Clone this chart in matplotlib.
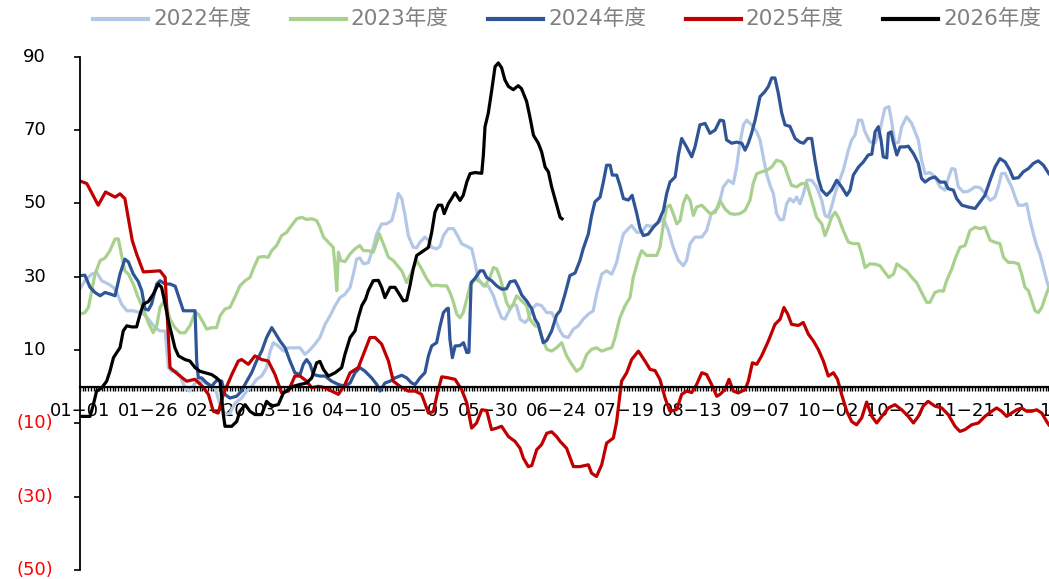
import matplotlib.pyplot as plt
from matplotlib.lines import Line2D
from matplotlib.ticker import MultipleLocator

plt.rcParams['font.family'] = ['DejaVu Sans', 'Noto Sans CJK SC']

# x axis: day of year (leap year), a label every 25 days
tick_days = list(range(0, 351, 25))
tick_labels = ['01-01', '01-26', '02-20', '03-16', '04-10', '05-05', '05-30', '06-24',
               '07-19', '08-13', '09-07', '10-02', '10-27', '11-21', '12-16']
y_ticks = [90, 70, 50, 30, 10, -10, -30, -50]

# 2022年度
days_2022 = [0, 1.8, 4.3, 6.1, 8, 10.4, 12.3, 13.5, 15.3, 17.2, 19.6, 22.1, 23.9, 25.7, 27.6,
             29.4, 31.3, 32.5, 33.7, 35.5, 36.8, 38.6, 40.4, 42.3, 44.7, 47.2, 49.6, 51.5, 53.3,
             55.1, 57, 59.4, 61.3, 63.1, 64.9, 66.8, 68.6, 69.9, 71.1, 72.9, 74.8, 76.6, 79,
             80.9, 82.7, 84.6, 86.4, 88.2, 90.1, 91.9, 93.8, 95.6, 97.4, 99.3, 100.5, 101.7,
             102.9, 104.2, 106, 107.8, 109.1, 110.9, 112.7, 114.6, 115.8, 117, 118.3, 119.5,
             120.7, 122.5, 123.8, 125, 126.8, 128.1, 129.3, 131.1, 132.4, 133.6, 135.4, 137.3,
             139.1, 140.3, 142.2, 144, 145.2, 146.4, 148.3, 150.1, 152, 153.2, 155, 156.2,
             158.1, 159.3, 160.5, 161.8, 163.6, 164.8, 166.1, 167.9, 169.7, 171.6, 173.4,
             174.6, 176.5, 177.7, 179.5, 181.4, 183.2, 185, 186.9, 188.7, 189.9, 191.8, 193.6,
             195.5, 197.3, 198.5, 199.8, 201.6, 202.8, 204.7, 206.5, 208.3, 210.2, 212, 214.5,
             216.3, 218.1, 220, 221.8, 223, 224.3, 226.1, 228.6, 230.4, 232, 234.7, 236.5,
             238.4, 240.2, 241.4, 242.6, 243.9, 245.1, 246.9, 248.8, 250, 251.2, 252.4, 253.7,
             254.9, 256.1, 257.4, 258.6, 259.8, 261, 262.3, 263.5, 264.7, 266, 267.2, 269,
             270.8, 272.7, 273.9, 275.1, 276.3, 277.6, 278.8, 280.6, 282.5, 283.7, 284.9, 286.2,
             287.4, 288.6, 290.4, 292.3, 294.1, 295.9, 297.4, 298.5, 299.6, 300.9, 302.1, 303.9,
             305.8, 307, 308.2, 309.4, 310.7, 312.5, 314.3, 316.2, 318, 319.2, 320.5, 321.7,
             322.9, 324.8, 326.6, 329.1, 330.9, 332.7, 334.6, 336.4, 337.6, 338.8, 340.1, 341.3,
             342.5, 343.8, 345, 346.8, 348, 349.3, 350.5, 351.7, 352.9, 354.2, 355.4, 356.2]
vals_2022 = [26.6, 28.9, 30.7, 31.2, 28.9, 28.0, 27.1, 25.7, 22.5, 20.7, 20.7, 20.2, 19.5, 17.9,
             16.1, 15.2, 15.2, 5.2, 4.2, 4.2, 2.9, -0.3, -1.2, 1.0, 1.5, 0.6, -0.3, -4.9, -7.6,
             -7.2, -4.5, -3.1, -1.2, 0.1, 2.0, 2.9, 5.2, 9.7, 12.0, 11.1, 9.7, 10.6, 10.6, 10.6,
             8.8, 10.1, 11.6, 13.4, 17.0, 19.3, 22.1, 24.3, 25.2, 27.1, 30.7, 34.8, 35.1, 33.5,
             33.8, 38.0, 41.7, 44.4, 44.4, 45.3, 48.5, 52.7, 51.3, 46.7, 41.2, 38.0, 37.9, 39.4,
             40.8, 40.0, 38.0, 37.6, 38.3, 41.2, 43.1, 43.1, 40.8, 39.0, 38.3, 37.6, 33.9, 29.4,
             27.5, 27.5, 24.8, 22.1, 18.8, 18.4, 21.2, 22.5, 22.1, 18.4, 17.5, 18.4, 21.2, 22.5,
             22.1, 20.2, 20.2, 18.6, 15.2, 13.8, 13.4, 15.7, 16.6, 18.4, 19.8, 20.7, 25.2, 30.7,
             31.6, 30.7, 33.9, 38.0, 41.7, 43.1, 44.0, 42.1, 42.1, 44.0, 43.7, 44.4, 45.8, 42.6,
             38.0, 34.4, 33.0, 34.4, 39.0, 40.8, 40.8, 42.6, 47.0, 49.0, 54.5, 56.3, 55.4, 59.9,
             66.4, 71.4, 72.7, 71.4, 69.5, 67.3, 62.7, 58.1, 54.9, 52.7, 47.2, 45.5, 45.6, 49.9,
             51.3, 50.4, 51.7, 49.9, 52.7, 56.3, 56.3, 54.5, 50.8, 46.7, 46.2, 49.0, 52.7, 55.4,
             59.0, 64.5, 67.3, 68.6, 72.7, 72.7, 69.5, 66.8, 66.5, 70.0, 75.9, 76.4, 71.8, 66.4,
             66.6, 70.9, 73.6, 71.8, 69.5, 67.3, 61.8, 58.1, 58.4, 57.2, 54.5, 53.6, 56.8, 59.5,
             59.3, 54.5, 53.1, 53.3, 54.5, 54.3, 52.7, 50.8, 51.7, 54.5, 58.1, 58.2, 56.3, 54.5,
             51.7, 49.5, 49.5, 49.9, 45.3, 41.7, 38.5, 36.2, 32.5, 28.9, 27.1]

# 2023年度
days_2023 = [0, 1.8, 3.1, 4.3, 5.5, 7.4, 9.2, 11, 12.9, 14.1, 15.3, 16.5, 17.8, 19.6, 21.4,
             23.3, 25.1, 26.9, 28.2, 29.4, 30.6, 31.9, 33.1, 34.9, 36.8, 38.6, 40.4, 42.3, 43.5,
             45.3, 46.6, 48.4, 50.2, 51.5, 53.3, 55.1, 57, 58.8, 60.7, 62.5, 63.7, 65.6, 67.4,
             69.2, 70.5, 72.3, 74.1, 76, 77.8, 79.7, 81.5, 83.3, 85.2, 87, 88.2, 89.5, 91.3,
             93.1, 93.8, 94.4, 95, 95.9, 97.4, 99.3, 101.1, 102.9, 104.2, 106, 107.8, 109.1, 110,
             111.5, 113.4, 115.2, 116.5, 118.3, 120.1, 121.9, 123.8, 125.6, 127.5, 129.3, 131.1,
             133, 134.8, 136, 137.3, 138.5, 139.7, 140.9, 142.2, 143.4, 145.2, 147.1, 148.9,
             150.7, 152, 153.2, 154.4, 155.6, 156.8, 158.1, 159.3, 160.5, 162.4, 164.2, 165.4,
             167.3, 168.5, 169.7, 171.6, 173.4, 175.2, 177.1, 178.9, 180.8, 182.6, 184.4, 186.3,
             188.1, 189.9, 191.8, 193.6, 195.5, 196.7, 198.5, 200.4, 202.2, 203.4, 205.3, 206.5,
             208.3, 210.2, 212, 213.2, 214.5, 215.7, 216.9, 218.1, 219.4, 220.6, 221.8, 223,
             224.3, 225.5, 226.7, 228.6, 230.4, 231.6, 233.5, 235.3, 237.1, 239, 240.8, 242.6,
             244.5, 246.3, 247.5, 248.8, 250.6, 252.4, 254.3, 256.1, 258, 259.2, 260.4, 261.6,
             263.5, 265.3, 267.2, 269, 270.8, 272.7, 273.9, 275.1, 276.3, 277.6, 278.8, 280.6,
             282.5, 284.3, 286.2, 287.4, 288.6, 290.4, 292.3, 294.1, 297.3, 299.1, 300.3, 302.1,
             303.9, 305.8, 307.6, 309.4, 311.3, 312.5, 314.3, 316.2, 317.4, 318.6, 320.5, 321.7,
             323.5, 325.4, 327.2, 329.1, 330.9, 332.7, 334.6, 336.4, 338.2, 339.5, 341.3, 343.1,
             345, 346.2, 347.4, 348.7, 349.9, 351.1, 352.3, 353.6, 354.8, 356.2]
vals_2023 = [19.8, 20.2, 21.6, 26.2, 30.7, 34.4, 35.1, 37.1, 40.3, 40.3, 35.8, 31.6, 30.7, 28.0,
             24.3, 21.2, 17.5, 14.7, 16.6, 21.6, 23.0, 21.6, 18.4, 16.1, 14.7, 14.7, 16.6, 20.2,
             19.8, 17.5, 15.7, 16.1, 16.1, 19.3, 21.2, 21.6, 24.5, 27.5, 28.9, 29.8, 32.1, 35.3,
             35.5, 35.3, 37.1, 38.5, 41.2, 42.1, 44.0, 45.8, 46.2, 45.6, 45.8, 45.3, 43.5, 40.8,
             39.4, 38.0, 32.5, 26.2, 36.7, 34.4, 34.1, 36.2, 37.6, 38.5, 37.1, 37.1, 36.7, 39.4,
             41.7, 39.0, 35.3, 34.4, 33.2, 31.6, 28.4, 31.2, 34.4, 32.1, 29.4, 27.5, 27.7, 27.5,
             27.5, 25.7, 23.0, 19.8, 18.8, 20.2, 23.9, 27.5, 29.4, 28.6, 27.5, 29.8, 32.5, 32.1,
             29.8, 26.6, 23.0, 21.2, 22.5, 24.8, 23.4, 22.1, 18.4, 16.6, 16.4, 13.8, 10.2, 9.7,
             10.6, 12.0, 8.4, 6.1, 4.2, 5.2, 8.8, 10.2, 10.6, 9.7, 10.2, 10.6, 13.4, 18.8, 22.1,
             24.3, 29.8, 34.8, 37.1, 35.8, 35.8, 35.8, 38.0, 44.4, 49.0, 49.5, 47.2, 44.4, 45.3,
             49.9, 52.2, 50.8, 46.7, 49.0, 49.5, 48.1, 47.2, 47.5, 50.8, 48.5, 47.2, 47.0, 47.2,
             48.1, 50.8, 55.4, 58.1, 58.6, 59.0, 59.9, 61.8, 61.3, 59.9, 57.2, 54.9, 54.5, 55.4,
             55.4, 50.8, 46.2, 44.4, 41.2, 43.5, 46.2, 47.6, 46.2, 42.6, 39.4, 39.0, 39.0, 36.2,
             32.5, 33.5, 33.4, 33.0, 29.8, 30.7, 33.5, 32.5, 31.6, 29.8, 28.4, 25.7, 23.0, 23.0,
             25.7, 26.2, 26.0, 28.9, 32.1, 34.8, 38.0, 38.5, 42.6, 43.5, 43.1, 43.5, 39.9, 39.4,
             39.0, 35.3, 33.9, 33.9, 33.5, 30.7, 27.1, 26.2, 23.4, 20.7, 20.2, 21.6, 24.3, 27.1]

# 2024年度
days_2024 = [0, 1.8, 3.7, 5.5, 7.4, 9.2, 11, 12.9, 14.7, 16.5, 17.8, 19.6, 21.4, 22.7, 23.9,
             25.1, 26.3, 28.2, 29.4, 31.3, 33.1, 35, 36.8, 38, 42.3, 42.9, 43.5, 44.7, 46.6,
             48.4, 50.2, 52.1, 53.3, 55.1, 57.6, 59.4, 61.3, 63.1, 64.9, 66.8, 68.6, 70.5, 71.7,
             73.5, 75.4, 77.2, 79, 80.9, 82.1, 83.3, 84.6, 85.8, 88.2, 90.1, 92.5, 95, 97.4,
             99.3, 101.1, 102.9, 104.8, 107.2, 109.1, 110.3, 112.1, 114, 115.8, 118.3, 120.1,
             121.9, 123.2, 125, 126.8, 128.1, 129.3, 131.1, 132.4, 133.6, 134.8, 135.4, 136,
             136.9, 137.9, 139.7, 141, 142.2, 143, 143.8, 145.2, 147.1, 148.3, 149.5, 151.3,
             153.2, 155, 156.8, 158.1, 159.9, 161.2, 162.4, 164.2, 166.1, 167.3, 168.5, 170.3,
             171.6, 173.4, 175.2, 176.5, 178.3, 180.1, 182, 183.8, 185, 186.9, 188.1, 189.3,
             191.2, 192.4, 193.6, 194.9, 195.7, 197.3, 198.5, 199.8, 201.6, 203, 204.7, 205.9,
             207.1, 208.9, 210.8, 212.6, 214.5, 215.7, 216.9, 218.8, 220, 221.2, 223, 224.9,
             226.1, 227.9, 229.8, 231.6, 233.5, 235.3, 236.6, 237.7, 239.6, 241.4, 243.3, 244.5,
             245.7, 246.9, 248.2, 250, 251.8, 253.1, 254.3, 255.5, 256.7, 258, 259.2, 261,
             262.9, 264.7, 266, 267.5, 269, 270.2, 271.4, 272.7, 274.5, 276.3, 278.2, 280,
             281.9, 283.1, 284.3, 286.2, 288, 289.8, 291.1, 292.3, 293.5, 294.5, 295.3, 296.6,
             297.2, 298.2, 299, 300.3, 301.5, 303.3, 304.5, 306.4, 308.2, 309.4, 310.7, 312.5,
             314.3, 316.2, 318, 319.2, 321.1, 322.3, 324.2, 326.6, 329.1, 330.9, 332.7, 334.6,
             336.4, 338.2, 340.1, 341.9, 343.1, 345, 346.8, 348.7, 350.5, 352.3, 354.2, 356.2]
vals_2024 = [30.3, 30.4, 27.1, 25.7, 24.8, 25.7, 25.3, 24.8, 30.7, 34.8, 34.0, 30.7, 28.7, 26.2,
             21.2, 20.9, 22.5, 28.0, 28.9, 28.0, 28.0, 27.4, 23.4, 20.7, 20.7, 7.0, 2.4, 2.4, 1.0,
             0.1, 1.7, 1.5, -2.1, -3.1, -2.6, -1.2, 1.5, 3.8, 7.0, 9.7, 13.4, 16.1, 14.7, 12.5,
             10.6, 7.0, 3.8, 3.3, 6.1, 7.4, 6.1, 3.3, 2.9, 2.9, 1.5, 0.6, 0.1, 1.0, 3.8, 5.2, 4.2,
             2.4, 0.6, -1.2, 1.0, 1.5, 2.4, 3.1, 2.4, 1.0, 0.6, 2.4, 3.8, 8.4, 11.1, 12.0, 16.6,
             20.2, 21.2, 21.4, 12.9, 7.9, 11.1, 11.2, 12.0, 9.3, 9.4, 28.4, 29.5, 31.6, 31.6, 29.8,
             28.9, 27.5, 26.6, 26.7, 28.6, 28.9, 27.1, 25.0, 23.4, 21.2, 18.4, 17.0, 12.0, 12.6,
             15.2, 19.5, 20.7, 25.2, 30.3, 31.0, 34.4, 37.6, 41.7, 46.7, 50.4, 51.7, 55.8, 60.4,
             60.4, 57.7, 57.7, 54.9, 51.3, 50.9, 52.2, 47.2, 43.1, 41.2, 41.6, 43.5, 44.9, 48.1,
             52.7, 55.8, 57.2, 63.2, 67.7, 65.4, 62.7, 65.4, 71.4, 71.8, 69.1, 70.0, 72.7, 72.5,
             67.3, 66.4, 66.7, 66.4, 64.5, 66.4, 69.1, 72.7, 79.1, 80.5, 81.9, 84.2, 84.2, 80.1,
             74.6, 71.4, 71.0, 67.7, 66.7, 66.4, 67.7, 67.7, 61.8, 56.8, 53.6, 52.2, 53.6, 56.3,
             54.5, 52.2, 53.6, 57.7, 59.9, 61.3, 63.2, 63.4, 69.5, 70.9, 67.3, 62.7, 62.4, 69.1,
             69.5, 66.8, 63.2, 65.4, 65.4, 65.6, 63.6, 60.9, 56.8, 55.8, 56.8, 57.2, 55.8, 55.8,
             54.0, 53.6, 51.3, 49.5, 49.0, 48.6, 50.4, 52.2, 56.3, 59.9, 62.2, 61.3, 59.0, 56.8,
             57.0, 58.6, 59.5, 60.9, 61.6, 60.4, 58.1]

# 2025年度
days_2025 = [0, 2.5, 6.7, 9.4, 12.9, 14.7, 16.5, 19.2, 20.8, 23.3, 29.4, 31.3, 33.1, 36.1, 39.2,
             42.3, 45, 47.2, 49, 50.8, 52.7, 55.8, 58.2, 59.4, 61.9, 64.3, 66.8, 69.2, 71.7,
             74.1, 76.6, 79, 80.9, 83.3, 85.2, 87.6, 90.1, 92.5, 95, 97.4, 99.3, 102.3, 104.2,
             106.6, 108.5, 110.9, 113.4, 115.2, 117.6, 120.7, 123.2, 125.6, 128.1, 129.9, 131.7,
             133, 135.5, 137.9, 140.3, 142.2, 144, 145.8, 147.7, 149.5, 151.3, 153.2, 155, 157.5,
             159.9, 161.8, 163, 164.8, 166.1, 167.9, 169.7, 171.6, 173.4, 175.2, 176.5, 178.9,
             181.4, 183.8, 186.9, 188.1, 189.9, 191.8, 193.6, 196.1, 197.3, 199.1, 201, 202.8,
             205.3, 207.7, 209.6, 211.4, 213.2, 215.1, 216.9, 219.4, 221.2, 223, 224.9, 226.7,
             228.6, 230.4, 232.2, 234.1, 235.3, 237.1, 238.6, 240.2, 242, 244.5, 245.7, 247.2,
             248.8, 250.6, 253.1, 255.5, 257.4, 258.8, 260.2, 261.6, 264.1, 265.9, 267.8, 269.6,
             271.4, 273.3, 275.1, 277, 278.5, 280, 281.9, 283.7, 285.5, 287.4, 289.2, 291.1,
             292.9, 294.8, 297.2, 299.6, 302.1, 304.5, 306.4, 308.2, 310, 311.8, 314.3, 316.8,
             319.2, 321.7, 323.5, 325.4, 327.8, 330.3, 332.7, 335.2, 337, 338.8, 340.7, 342.5,
             344.4, 346.2, 348, 349.9, 351.7, 353.6, 355.4, 356.2]
vals_2025 = [56.1, 55.4, 49.5, 53.1, 51.7, 52.6, 51.3, 39.9, 36.2, 31.3, 31.6, 29.8, 5.2, 3.3, 1.5,
             2.0, 0.1, -2.1, -6.7, -7.2, -2.1, 3.3, 7.0, 7.4, 6.1, 8.4, 7.4, 7.0, 3.3, -1.7, -1.2,
             2.9, 2.9, 1.5, -0.3, 0.1, -0.3, -1.2, -2.1, 0.6, 3.8, 5.2, 8.8, 13.4, 13.4, 11.6, 7.0,
             1.5, 0.1, -1.2, -1.2, -2.1, -7.2, -6.8, -0.8, 2.7, 2.4, 2.0, -0.8, -4.4, -11.3, -9.9,
             -6.3, -6.5, -11.7, -11.3, -10.8, -13.6, -14.9, -16.8, -19.5, -21.8, -21.5, -17.2,
             -15.8, -12.7, -12.3, -13.6, -14.9, -16.8, -21.8, -21.8, -21.3, -23.6, -24.5, -21.3,
             -15.4, -14.0, -9.5, 1.5, 3.8, 7.4, 9.7, 7.0, 4.7, 4.4, 2.0, -3.1, -6.7, -6.2, -2.1,
             -1.2, -1.6, 0.6, 3.8, 3.3, 0.6, -2.6, -2.1, -0.8, 2.0, -1.2, -1.7, -0.8, 1.5, 6.5,
             6.1, 8.4, 12.5, 17.0, 18.4, 21.6, 19.8, 17.0, 16.7, 17.5, 14.3, 12.5, 10.2, 7.0, 2.9,
             3.8, 2.0, -2.1, -6.7, -9.5, -10.4, -8.5, -4.2, -8.1, -9.9, -8.1, -5.8, -4.9, -6.3,
             -8.1, -9.9, -8.1, -5.3, -4.0, -5.3, -5.8, -7.6, -10.8, -12.2, -11.7, -10.4, -9.9,
             -8.1, -6.7, -5.8, -6.7, -8.1, -7.2, -6.3, -5.8, -6.7, -6.7, -6.3, -7.2, -9.5, -10.4]

# 2026年度
days_2026 = [0, 3.7, 4.9, 6.1, 8, 9.8, 11, 12.3, 13.5, 14.7, 15.9, 17.2, 19, 20.8, 22.1, 23.3,
             25.1, 26.9, 28.8, 30, 31.3, 32.5, 33.7, 34.9, 36.2, 38.6, 40.4, 42.3, 44.1, 46,
             48.4, 50.2, 51.5, 52.7, 53.3, 55.8, 57.6, 58.8, 60.7, 62.5, 64.3, 66.8, 68.6, 70.4,
             72.9, 74.8, 76.6, 78.4, 80.9, 83.3, 85.2, 87, 88.2, 89.5, 91.3, 93.8, 96.2, 97.4,
             99.3, 101.1, 102.3, 103.6, 105, 106, 107.8, 109.7, 110.9, 112.1, 114, 115.8, 117,
             118.9, 120.1, 121.3, 122.5, 123.8, 125.6, 128.1, 129.3, 130.5, 131.7, 133, 133.9,
             135.4, 136.6, 137.9, 139.7, 140.9, 142.2, 143.4, 145.2, 147.7, 148.3, 148.9, 150.1,
             151.3, 152.6, 153.8, 155, 156.2, 157.5, 159.3, 161.1, 162.3, 164.2, 165.4, 166.7,
             168.5, 169.7, 171, 172.2, 173.4, 174.6, 176.5, 177.2]
vals_2026 = [-8.1, -8.1, -4.9, -1.2, -0.3, 1.5, 4.2, 7.9, 9.3, 10.6, 15.2, 16.6, 16.3, 16.3, 19.8,
             22.5, 23.2, 25.2, 28.0, 27.1, 22.5, 17.9, 14.3, 10.6, 8.4, 7.4, 7.0, 5.2, 4.2, 3.8,
             3.3, 2.4, 1.5, -7.6, -10.8, -10.8, -9.5, -6.7, -4.9, -6.7, -7.6, -7.6, -4.0, -5.3,
             -4.9, -1.7, -0.8, 0.1, 0.6, 1.0, 2.4, 6.5, 6.9, 4.7, 2.9, 3.8, 5.2, 8.8, 13.4, 15.2,
             18.8, 22.1, 23.9, 26.2, 28.9, 29.0, 27.1, 24.3, 27.1, 27.1, 25.7, 23.4, 23.6, 27.5,
             32.1, 35.8, 36.7, 38.0, 42.1, 47.6, 49.5, 49.5, 47.2, 49.9, 51.3, 52.9, 50.8, 52.2,
             55.8, 58.1, 58.4, 58.2, 63.2, 70.9, 74.6, 80.5, 87.3, 88.3, 87.0, 83.7, 81.9, 81.0,
             82.1, 81.3, 77.8, 73.6, 68.6, 66.4, 64.1, 59.9, 58.6, 54.5, 51.3, 46.2, 45.8]

series = [
    ('2022年度', days_2022, vals_2022, '#B4C7E7'),
    ('2023年度', days_2023, vals_2023, '#A9D18E'),
    ('2024年度', days_2024, vals_2024, '#2F5597'),
    ('2025年度', days_2025, vals_2025, '#C00000'),
    ('2026年度', days_2026, vals_2026, '#000000'),
]

W, H = 1049, 579
fig = plt.figure(figsize=(W / 100, H / 100), dpi=100)
ax = fig.add_axes([80 / W, 9 / H, 969 / W, 513.3 / H])

for name, d, v, c in series:
    ax.plot(d, v, color=c, lw=2.3, label=name)

ax.set_xlim(0, 969 / 2.72)
ax.set_ylim(-50, 90)

ax.spines['top'].set_visible(False)
ax.spines['right'].set_visible(False)
ax.spines['bottom'].set_position(('data', 0))
ax.spines['bottom'].set_linewidth(1.6)
ax.spines['left'].set_linewidth(1.3)

ax.set_xticks(tick_days)
ax.set_xticklabels([t.replace('-', '\u2212') for t in tick_labels], fontsize=13)
ax.xaxis.set_minor_locator(MultipleLocator(1))
ax.tick_params(axis='x', which='both', direction='out', length=3, width=1,
               color='black', pad=8)

ax.set_yticks(y_ticks)
ax.set_yticklabels([])
ax.tick_params(axis='y', direction='out', length=4, width=1.2)

# y labels: negatives shown in red parentheses
for v in y_ticks:
    if v > 0:
        ax.text(-34 / 969, v, str(v), transform=ax.get_yaxis_transform(),
                ha='right', va='center', fontsize=13, color='black', clip_on=False)
    else:
        ax.text(-27 / 969, v, '(%d)' % abs(v), transform=ax.get_yaxis_transform(),
                ha='right', va='center', fontsize=13, color='#FF0000', clip_on=False)

# legend row at the top
for i, (name, d, v, c) in enumerate(series):
    x0 = 93 + 197.5 * i
    fig.add_artist(Line2D([x0 / W, (x0 + 55) / W], [1 - 19 / H, 1 - 19 / H],
                          color=c, lw=3, transform=fig.transFigure))
    fig.text((x0 + 60) / W, 1 - 19 / H, name, ha='left', va='center',
             fontsize=15.5, color='#808080')

fig.savefig('out.png', dpi=100)
